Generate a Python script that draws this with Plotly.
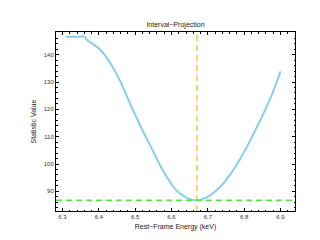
import plotly.graph_objects as go

energy = [6.31, 6.32, 6.33, 6.34, 6.35, 6.36, 6.37, 6.38, 6.39, 6.40,
          6.41, 6.42, 6.43, 6.44, 6.45, 6.46, 6.47, 6.48, 6.49, 6.50,
          6.51, 6.52, 6.53, 6.54, 6.55, 6.56, 6.57, 6.58, 6.59, 6.60,
          6.61, 6.62, 6.63, 6.64, 6.65, 6.66, 6.67, 6.68, 6.69, 6.70,
          6.71, 6.72, 6.73, 6.74, 6.75, 6.76, 6.77, 6.78, 6.79, 6.80,
          6.81, 6.82, 6.83, 6.84, 6.85, 6.86, 6.87, 6.88, 6.89, 6.90]
statistic = [146.6, 146.6, 146.6, 146.6, 146.6, 146.6, 145.0, 144.2, 143.3, 142.3,
             140.9, 139.2, 137.2, 135.0, 132.6, 129.9, 127.0, 123.9, 120.9, 118.0,
             115.2, 112.4, 109.7, 107.1, 104.5, 101.8, 99.2, 96.8, 94.6, 92.6,
             90.9, 89.6, 88.6, 87.8, 87.2, 86.8, 86.7, 86.9, 87.4, 88.1,
             88.9, 89.9, 91.1, 92.5, 94.1, 95.9, 97.8, 99.9, 102.1, 104.5,
             106.9, 109.5, 112.2, 114.9, 117.6, 120.4, 123.4, 126.6, 130.1, 133.9]
best_energy = 6.67
min_statistic = 86.7
x_ticks = [6.3, 6.4, 6.5, 6.6, 6.7, 6.8, 6.9]
y_ticks = [90, 100, 110, 120, 130, 140]

fig = go.Figure()
fig.add_trace(go.Scatter(x=energy, y=statistic, mode="lines",
                         line=dict(color="#87CEEB", width=2, shape="spline", smoothing=0.5),
                         showlegend=False))
fig.add_shape(type="line", xref="x", yref="paper", x0=best_energy, x1=best_energy,
              y0=0, y1=1, line=dict(color="#FFC04D", width=1.5, dash="6px,4px"))
fig.add_shape(type="line", xref="paper", yref="y", x0=0, x1=1,
              y0=min_statistic, y1=min_statistic,
              line=dict(color="#4CEE3C", width=1.5, dash="6px,4px"))

axis_common = dict(showline=True, linecolor="black", linewidth=1, mirror="allticks",
                   ticks="inside", ticklen=3, tickwidth=0.8, tickcolor="black",
                   showgrid=False, zeroline=False,
                   tickfont=dict(family="Liberation Sans", size=6, color="#333"))

fig.update_xaxes(range=[6.282, 6.940], tickvals=x_ticks,
                 ticktext=[f"{v:.1f}" for v in x_ticks],
                 minor=dict(dtick=0.02, ticks="inside", ticklen=1.5, tickcolor="black", tickwidth=0.6),
                 title=dict(text="Rest\u2212Frame Energy (keV)", standoff=4,
                            font=dict(family="Liberation Sans", size=7, color="#222")),
                 **axis_common)
fig.update_yaxes(range=[82.8, 148.3], tickvals=y_ticks,
                 minor=dict(dtick=2, ticks="inside", ticklen=1.5, tickcolor="black", tickwidth=0.6),
                 title=dict(text="Statistic Value", standoff=6,
                            font=dict(family="Liberation Sans", size=7, color="#222")),
                 **axis_common)

fig.update_layout(
    width=320, height=240,
    margin=dict(l=48, r=33, t=24, b=37),
    paper_bgcolor="white", plot_bgcolor="white",
    title=dict(text="Interval\u2212Projection", x=0.5, xref="paper", y=0.93, yanchor="middle",
               font=dict(family="Liberation Sans", size=7, color="#222")),
)

fig.write_html("out.html")
